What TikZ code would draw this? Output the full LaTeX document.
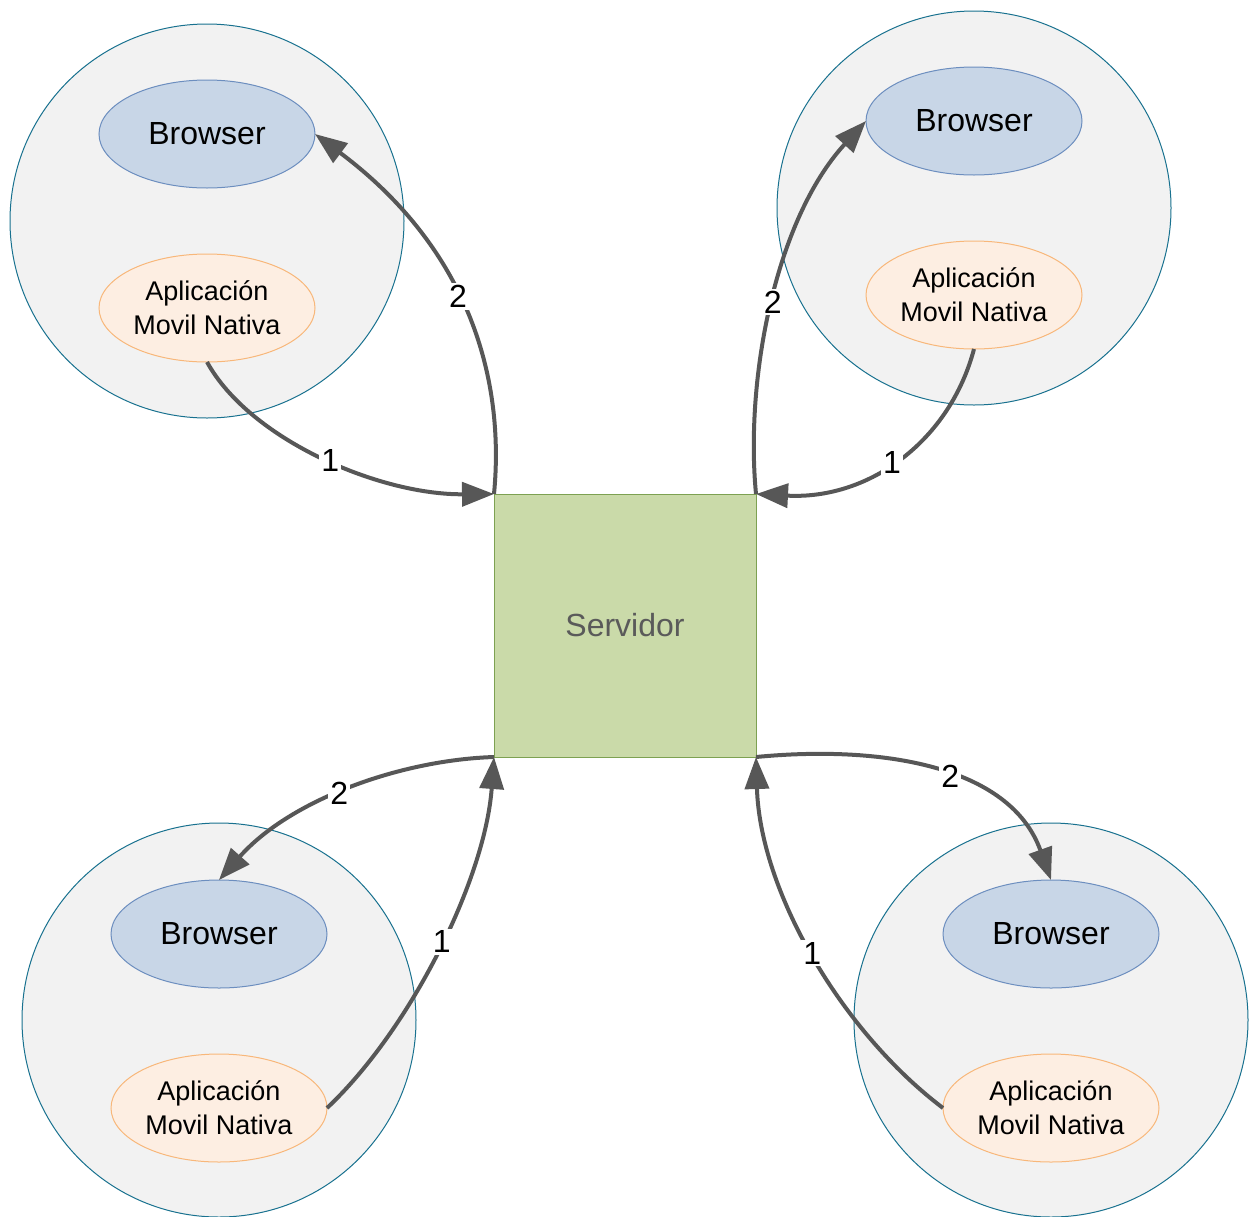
\documentclass[tikz,border=0pt]{standalone}
\usepackage{fontspec}
\setmainfont{Liberation Sans}
\usetikzlibrary{shapes.geometric,arrows.meta}
\definecolor{zonefill}{HTML}{F2F2F2}
\definecolor{zoneline}{HTML}{18718F}
\definecolor{brfill}{HTML}{C8D6E7}
\definecolor{brline}{HTML}{6C8EBF}
\definecolor{appfill}{HTML}{FDEEE2}
\definecolor{appline}{HTML}{F8B77A}
\definecolor{srvfill}{HTML}{CADAA9}
\definecolor{srvline}{HTML}{7DA152}
\definecolor{flow}{HTML}{575757}
\definecolor{srvtext}{HTML}{5A5A5A}
\tikzset{
  zone/.style={circle, draw=zoneline, fill=zonefill, line width=1pt, minimum size=394pt, inner sep=0pt, outer sep=0pt},
  browser/.style={ellipse, draw=brline, fill=brfill, line width=1pt, minimum width=216pt, minimum height=108pt, inner sep=0pt, outer sep=0pt, font=\fontsize{32}{38}\selectfont},
  app/.style={ellipse, draw=appline, fill=appfill, line width=1pt, minimum width=216pt, minimum height=108pt, inner sep=0pt, outer sep=0pt, align=center, font=\fontsize{27}{34}\selectfont},
  server/.style={rectangle, draw=srvline, fill=srvfill, line width=1pt, minimum width=262pt, minimum height=263pt, inner sep=0pt, outer sep=0pt, text=srvtext, font=\fontsize{32}{38}\selectfont},
  flowline/.style={draw=flow, line width=4pt, -{Triangle[length=32pt,width=24pt]}},
  steplabel/.style={fill=white, inner sep=2pt, font=\fontsize{32}{38}\selectfont}
}
\begin{document}
\begin{tikzpicture}[x=1pt,y=-1pt]
\useasboundingbox (0,0) rectangle (1250,1216);
% client zones
\node[zone] (z1) at (207,221) {};
\node[zone] (z2) at (974,208) {};
\node[zone] (z3) at (219,1020) {};
\node[zone] (z4) at (1051,1020) {};
% clients
\node[browser] (b1) at (207,134) {Browser};
\node[app] (a1) at (207,308) {Aplicación\\Movil Nativa};
\node[browser] (b2) at (974,121) {Browser};
\node[app] (a2) at (974,295) {Aplicación\\Movil Nativa};
\node[browser] (b3) at (219,934) {Browser};
\node[app] (a3) at (219,1108) {Aplicación\\Movil Nativa};
\node[browser] (b4) at (1051,934) {Browser};
\node[app] (a4) at (1051,1108) {Aplicación\\Movil Nativa};
% server
\node[server] (srv) at (625,625.5) {Servidor};
% requests (1) and responses (2)
\draw[flowline] (a1.south) .. controls (250,440) and (380,495) .. node[steplabel,pos=0.52] {1} (srv.north west);
\draw[flowline] (srv.north west) .. controls (505,380) and (470,250) .. node[steplabel,pos=0.55] {2} (b1.east);
\draw[flowline] (a2.south) .. controls (950,440) and (870,500) .. node[steplabel,pos=0.53] {1} (srv.north east);
\draw[flowline] (srv.north east) .. controls (745,380) and (775,220) .. node[steplabel,pos=0.5] {2} (b2.west);
\draw[flowline] (srv.south west) .. controls (400,760) and (290,800) .. node[steplabel,pos=0.53] {2} (b3.north);
\draw[flowline] (a3.east) .. controls (410,1030) and (485,880) .. node[steplabel,pos=0.52] {1} (srv.south west);
\draw[flowline] (srv.south east) .. controls (880,745) and (1010,765) .. node[steplabel,pos=0.55] {2} (b4.north);
\draw[flowline] (a4.west) .. controls (840,1030) and (760,890) .. node[steplabel,pos=0.5] {1} (srv.south east);
\end{tikzpicture}
\end{document}
